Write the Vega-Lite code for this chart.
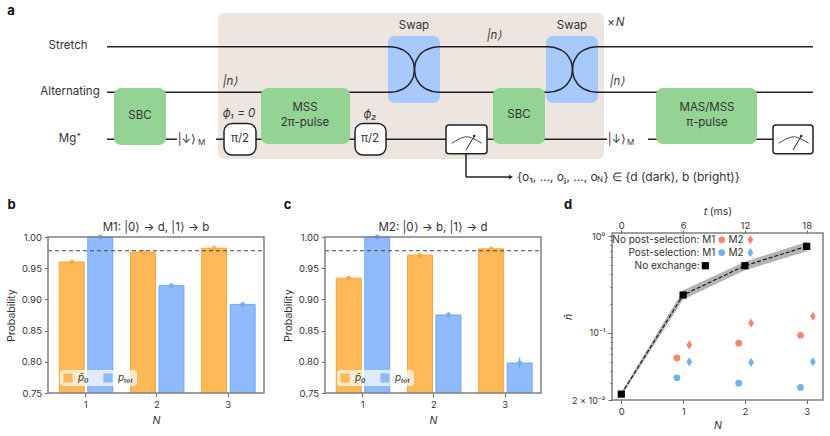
{"$schema":"https://vega.github.io/schema/vega-lite/v6.json","padding":0,"background":"white","bounds":"flush","spacing":0,
"resolve":{"scale":{"color":"independent","stroke":"independent"},"legend":{"color":"independent","stroke":"independent"}},
"config":{"font":"Inter","view":{"stroke":null},"axis":{"labelFontSize":9.5,"labelColor":"#333","titleColor":"#333","titleFontSize":10.5,"titleFontWeight":"normal","domain":false,"tickColor":"#666","tickSize":3.5,"grid":false,"labelPadding":3},"title":{"fontSize":11.5,"fontWeight":"normal","color":"#333","offset":-1}},
"vconcat":[
{"width":830,"height":233,
"encoding":{"x":{"field":"x","type":"quantitative","scale":{"domain":[0,830],"nice":false,"zero":false},"axis":null},"y":{"field":"y","type":"quantitative","scale":{"domain":[0,233],"reverse":true,"nice":false,"zero":false},"axis":null}},
"layer":[
{"data":{"values":[{"x":218,"x2":604,"y":13,"y2":159}]},"mark":{"type":"rect","color":"#ede5df","cornerRadius":6},"encoding":{"x2":{"field":"x2"},"y2":{"field":"y2"}}},
{"data":{"values":[{"x":388,"x2":440,"y":36,"y2":103},{"x":546,"x2":598,"y":36,"y2":103}]},"mark":{"type":"rect","color":"#a8c9fc","cornerRadius":7},"encoding":{"x2":{"field":"x2"},"y2":{"field":"y2"}}},
{"data":{"values":[{"x":107,"x2":177,"y":139.3,"y2":139.3},{"x":216,"x2":607,"y":139.3,"y2":139.3},{"x":648,"x2":813,"y":139.3,"y2":139.3},{"x":466,"x2":466,"y":154,"y2":177},{"x":466,"x2":510,"y":177,"y2":177}]},"mark":{"type":"rule","color":"#222","strokeWidth":1.5},"encoding":{"x2":{"field":"x2"},"y2":{"field":"y2"}}},
{"data":{"values":[{"p":"A","x":107,"y":46.7},{"p":"A","x":390.5,"y":46.7},{"p":"A","x":402.5,"y":49.75},{"p":"A","x":411.3,"y":58.1},{"p":"A","x":413.7,"y":63.6},{"p":"A","x":414.5,"y":69.5},{"p":"A","x":415.3,"y":75.4},{"p":"A","x":417.7,"y":80.9},{"p":"A","x":426.5,"y":89.25},{"p":"A","x":438.5,"y":92.3},{"p":"A","x":548.5,"y":92.3},{"p":"A","x":560.5,"y":89.25},{"p":"A","x":569.3,"y":80.9},{"p":"A","x":571.7,"y":75.4},{"p":"A","x":572.5,"y":69.5},{"p":"A","x":573.3,"y":63.6},{"p":"A","x":575.7,"y":58.1},{"p":"A","x":584.5,"y":49.75},{"p":"A","x":596.5,"y":46.7},{"p":"A","x":813,"y":46.7},
{"p":"B","x":107,"y":92.3},{"p":"B","x":390.5,"y":92.3},{"p":"B","x":402.5,"y":89.25},{"p":"B","x":411.3,"y":80.9},{"p":"B","x":413.7,"y":75.4},{"p":"B","x":414.5,"y":69.5},{"p":"B","x":415.3,"y":63.6},{"p":"B","x":417.7,"y":58.1},{"p":"B","x":426.5,"y":49.75},{"p":"B","x":438.5,"y":46.7},{"p":"B","x":548.5,"y":46.7},{"p":"B","x":560.5,"y":49.75},{"p":"B","x":569.3,"y":58.1},{"p":"B","x":571.7,"y":63.6},{"p":"B","x":572.5,"y":69.5},{"p":"B","x":573.3,"y":75.4},{"p":"B","x":575.7,"y":80.9},{"p":"B","x":584.5,"y":89.25},{"p":"B","x":596.5,"y":92.3},{"p":"B","x":813,"y":92.3}]},"mark":{"type":"line","color":"#222","strokeWidth":1.5,"interpolate":"monotone"},"encoding":{"detail":{"field":"p"}}},
{"data":{"values":[{"x":114,"x2":166,"y":88,"y2":145},{"x":261,"x2":350,"y":88,"y2":144},{"x":493,"x2":545,"y":88,"y2":144},{"x":656,"x2":757,"y":88,"y2":144}]},"mark":{"type":"rect","color":"#93d393","cornerRadius":7},"encoding":{"x2":{"field":"x2"},"y2":{"field":"y2"}}},
{"data":{"values":[{"x":224,"x2":256,"y":123.5,"y2":155},{"x":355,"x2":386,"y":123.5,"y2":155}]},"mark":{"type":"rect","fill":"white","stroke":"#222","strokeWidth":1.5,"cornerRadius":8},"encoding":{"x2":{"field":"x2"},"y2":{"field":"y2"}}},
{"data":{"values":[{"x":446,"x2":487,"y":125,"y2":153.7},{"x":773,"x2":813,"y":125,"y2":153.7}]},"mark":{"type":"rect","fill":"white","stroke":"#222","strokeWidth":1.5,"cornerRadius":3},"encoding":{"x2":{"field":"x2"},"y2":{"field":"y2"}}},
{"data":{"values":[{"p":"m1","x":451.7,"y":143.3},{"p":"m1","x":459,"y":139},{"p":"m1","x":466.7,"y":136.8},{"p":"m1","x":474,"y":139},{"p":"m1","x":481.7,"y":143.3},{"p":"m2","x":778.7,"y":143.3},{"p":"m2","x":786,"y":139},{"p":"m2","x":793.7,"y":136.8},{"p":"m2","x":801,"y":139},{"p":"m2","x":808.7,"y":143.3}]},"mark":{"type":"line","color":"#333","strokeWidth":0.9,"interpolate":"monotone"},"encoding":{"detail":{"field":"p"}}},
{"data":{"values":[{"x":466,"x2":474.3,"y":150,"y2":136},{"x":793,"x2":801.3,"y":150,"y2":136}]},"mark":{"type":"rule","color":"#222","strokeWidth":1},"encoding":{"x2":{"field":"x2"},"y2":{"field":"y2"}}},
{"data":{"values":[{"x":474.3,"y":136},{"x":801.3,"y":136}]},"mark":{"type":"point","shape":"circle","filled":true,"color":"#222","size":6,"opacity":1}},
{"data":{"values":[{"x":511,"y":177}]},"mark":{"type":"point","shape":"triangle-right","filled":true,"color":"#222","size":22,"opacity":1}},
{"data":{"values":[{"x":68,"y":46,"t":"Stretch"},{"x":70,"y":92,"t":"Alternating"},{"x":70,"y":139,"t":"Mg⁺"},{"x":414,"y":26,"t":"Swap"},{"x":572,"y":26,"t":"Swap"},{"x":140,"y":116,"t":"SBC"},{"x":519,"y":115,"t":"SBC"},{"x":305,"y":108,"t":"MSS"},{"x":305,"y":122.5,"t":"2π-pulse"},{"x":707,"y":108,"t":"MAS/MSS"},{"x":707,"y":123,"t":"π-pulse"},{"x":240,"y":139,"t":"π/2"},{"x":370,"y":139,"t":"π/2"},{"x":187,"y":140,"t":"|↓⟩"},{"x":617,"y":140,"t":"|↓⟩"},{"x":611,"y":23,"t":"×"}]},"mark":{"type":"text","fontSize":11.5,"color":"#333"},"encoding":{"text":{"field":"t"}}},
{"data":{"values":[{"x":230,"y":82,"t":"|n⟩"},{"x":494,"y":36,"t":"|n⟩"},{"x":617,"y":82,"t":"|n⟩"},{"x":620,"y":23,"t":"N"},{"x":239,"y":114,"t":"ϕ₁ = 0"},{"x":370,"y":115,"t":"ϕ₂"}]},"mark":{"type":"text","fontSize":11.5,"fontStyle":"italic","color":"#333"},"encoding":{"text":{"field":"t"}}},
{"data":{"values":[{"x":517,"y":177,"t":"{o₁, ..., oⱼ, ..., o"},{"x":603.5,"y":177,"t":"} ∈ {d (dark), b (bright)}"}]},"mark":{"type":"text","fontSize":12,"align":"left","color":"#333"},"encoding":{"text":{"field":"t"}}},
{"data":{"values":[{"x":597,"y":179.5,"t":"N"},{"x":198,"y":142.5,"t":"M"},{"x":627,"y":142.5,"t":"M"}]},"mark":{"type":"text","fontSize":8,"align":"left","color":"#333"},"encoding":{"text":{"field":"t"}}},
{"data":{"values":[{"x":11,"y":11,"t":"a"},{"x":11.5,"y":205,"t":"b"},{"x":287.5,"y":205,"t":"c"},{"x":568,"y":205,"t":"d"}]},"mark":{"type":"text","fontSize":13,"fontWeight":"bold","color":"#111"},"encoding":{"text":{"field":"t"}}}
]},
{"bounds":"flush","spacing":0,
"resolve":{"scale":{"color":"independent","stroke":"independent"},"legend":{"color":"independent","stroke":"independent"}},
"hconcat":[
{"width":48,"height":1,"data":{"values":[{"a":1}]},"mark":{"type":"point","opacity":0}},
{"width":216,"height":160,"title":"M1: |0⟩ → d, |1⟩ → b",
"resolve":{"axis":{"y":"independent"}},
"data":{"values":[{"pos":0.81,"series":"p̄₀","value":0.96,"lo":0.958,"hi":0.961},{"pos":1.21,"series":"pₜₒₜ","value":1.0,"lo":1.0,"hi":1.0},{"pos":1.81,"series":"p̄₀","value":0.976,"lo":0.975,"hi":0.977},{"pos":2.21,"series":"pₜₒₜ","value":0.922,"lo":0.92,"hi":0.924},{"pos":2.81,"series":"p̄₀","value":0.982,"lo":0.98,"hi":0.983},{"pos":3.21,"series":"pₜₒₜ","value":0.892,"lo":0.888,"hi":0.896}]},
"encoding":{"x":{"field":"pos","type":"quantitative","scale":{"domain":[0.476,3.51],"nice":false,"zero":false,"padding":0},"axis":{"values":[1,2,3],"format":"d","title":"N","titleFontStyle":"italic","titlePadding":6}}},
"layer":[
{"mark":{"type":"bar","size":25,"clip":true,"strokeWidth":1},"encoding":{"y":{"field":"value","type":"quantitative","scale":{"domain":[0.75,1],"range":[160,4],"nice":false,"zero":false},"axis":{"values":[0.75,0.8,0.85,0.9,0.95,1],"format":".2f","title":"Probability","labelOverlap":false,"titleX":-32}},"color":{"field":"series","type":"nominal","scale":{"domain":["p̄₀","pₜₒₜ"],"range":["#fdb957","#8fbbfd"]},"legend":{"title":null,"orient":"none","legendX":12,"legendY":137,"direction":"horizontal","columns":2,"symbolType":"square","symbolSize":85,"symbolStrokeWidth":0,"labelFontSize":10,"labelFontStyle":"italic","labelColor":"#333","fillColor":"rgba(255,255,255,0.7)","cornerRadius":3,"padding":3,"columnPadding":14,"labelOffset":5}},"stroke":{"field":"series","type":"nominal","scale":{"domain":["p̄₀","pₜₒₜ"],"range":["#f9a63a","#6fa6fb"]},"legend":null}}},
{"mark":{"type":"rule","strokeWidth":1.2,"clip":true},"encoding":{"y":{"field":"lo","type":"quantitative","axis":null},"y2":{"field":"hi"},"stroke":{"field":"series","type":"nominal","legend":null}}},
{"mark":{"type":"point","shape":"circle","size":14,"filled":false,"strokeWidth":1.2,"opacity":1},"encoding":{"y":{"field":"value","type":"quantitative","axis":null},"stroke":{"field":"series","type":"nominal","legend":null}}},
{"data":{"values":[{"threshold":0.978}]},"mark":{"type":"rule","color":"#444","strokeDash":[4,3],"strokeWidth":1.1},"encoding":{"x":{"value":0},"x2":{"value":216},"y":{"field":"threshold","type":"quantitative","axis":null}}},
{"data":{"values":[{"l":0.476,"r":3.51,"b":0.75,"t":1}]},"mark":{"type":"rect","fillOpacity":0,"stroke":"#808080","strokeWidth":1.5},"encoding":{"x":{"field":"l","type":"quantitative"},"x2":{"field":"r"},"y":{"field":"b","type":"quantitative","axis":null},"y2":{"field":"t"}}}
]},
{"width":61,"height":1,"data":{"values":[{"a":1}]},"mark":{"type":"point","opacity":0}},
{"width":216,"height":160,"title":"M2: |0⟩ → b, |1⟩ → d",
"resolve":{"axis":{"y":"independent"}},
"data":{"values":[{"pos":0.81,"series":"p̄₀","value":0.934,"lo":0.932,"hi":0.936},{"pos":1.21,"series":"pₜₒₜ","value":1.0,"lo":1.0,"hi":1.0},{"pos":1.81,"series":"p̄₀","value":0.971,"lo":0.969,"hi":0.973},{"pos":2.21,"series":"pₜₒₜ","value":0.875,"lo":0.871,"hi":0.879},{"pos":2.81,"series":"p̄₀","value":0.981,"lo":0.979,"hi":0.983},{"pos":3.21,"series":"pₜₒₜ","value":0.798,"lo":0.789,"hi":0.807}]},
"encoding":{"x":{"field":"pos","type":"quantitative","scale":{"domain":[0.476,3.51],"nice":false,"zero":false,"padding":0},"axis":{"values":[1,2,3],"format":"d","title":"N","titleFontStyle":"italic","titlePadding":6}}},
"layer":[
{"mark":{"type":"bar","size":25,"clip":true,"strokeWidth":1},"encoding":{"y":{"field":"value","type":"quantitative","scale":{"domain":[0.75,1],"range":[160,4],"nice":false,"zero":false},"axis":{"values":[0.75,0.8,0.85,0.9,0.95,1],"format":".2f","title":"Probability","labelOverlap":false,"titleX":-32}},"color":{"field":"series","type":"nominal","scale":{"domain":["p̄₀","pₜₒₜ"],"range":["#fdb957","#8fbbfd"]},"legend":{"title":null,"orient":"none","legendX":12,"legendY":137,"direction":"horizontal","columns":2,"symbolType":"square","symbolSize":85,"symbolStrokeWidth":0,"labelFontSize":10,"labelFontStyle":"italic","labelColor":"#333","fillColor":"rgba(255,255,255,0.7)","cornerRadius":3,"padding":3,"columnPadding":14,"labelOffset":5}},"stroke":{"field":"series","type":"nominal","scale":{"domain":["p̄₀","pₜₒₜ"],"range":["#f9a63a","#6fa6fb"]},"legend":null}}},
{"mark":{"type":"rule","strokeWidth":1.2,"clip":true},"encoding":{"y":{"field":"lo","type":"quantitative","axis":null},"y2":{"field":"hi"},"stroke":{"field":"series","type":"nominal","legend":null}}},
{"mark":{"type":"point","shape":"circle","size":14,"filled":false,"strokeWidth":1.2,"opacity":1},"encoding":{"y":{"field":"value","type":"quantitative","axis":null},"stroke":{"field":"series","type":"nominal","legend":null}}},
{"data":{"values":[{"threshold":0.978}]},"mark":{"type":"rule","color":"#444","strokeDash":[4,3],"strokeWidth":1.1},"encoding":{"x":{"value":0},"x2":{"value":216},"y":{"field":"threshold","type":"quantitative","axis":null}}},
{"data":{"values":[{"l":0.476,"r":3.51,"b":0.75,"t":1}]},"mark":{"type":"rect","fillOpacity":0,"stroke":"#808080","strokeWidth":1.5},"encoding":{"x":{"field":"l","type":"quantitative"},"x2":{"field":"r"},"y":{"field":"b","type":"quantitative","axis":null},"y2":{"field":"t"}}}
]},
{"width":71,"height":1,"data":{"values":[{"a":1}]},"mark":{"type":"point","opacity":0}},
{"width":211,"height":167,"view":{"stroke":"#808080","strokeWidth":1.5},
"resolve":{"axis":{"x":"independent"}},
"layer":[
{"data":{"values":[{"N":0,"lo":0.0219,"hi":0.0241},{"N":1,"lo":0.22,"hi":0.274},{"N":2,"lo":0.442,"hi":0.543},{"N":3,"lo":0.694,"hi":0.867}]},"mark":{"type":"area","color":"#b4b4b4"},"encoding":{"x":{"field":"N","type":"quantitative","scale":{"domain":[-0.151,3.264],"nice":false,"zero":false},"axis":{"values":[0,1,2,3],"format":"d","title":"N","titleFontStyle":"italic"}},"y":{"field":"lo","type":"quantitative","scale":{"type":"log","domain":[0.02,1.076],"nice":false},"axis":{"values":[0.02,0.03,0.04,0.05,0.06,0.07,0.08,0.09,0.1,0.2,0.3,0.4,0.5,0.6,0.7,0.8,0.9,1],"labelExpr":"datum.value==1?'10⁰':datum.value==0.1?'10⁻¹':datum.value==0.02?'2 × 10⁻²':''","labelOverlap":false,"labelFontSize":9,"tickSize":{"expr":"datum.value==1||datum.value==0.1||datum.value==0.02?4:2"},"title":"n̄","titleFontStyle":"italic","titleX":-39}},"y2":{"field":"hi"}}},
{"data":{"values":[{"N":0,"v":0.023},{"N":1,"v":0.245},{"N":2,"v":0.493},{"N":3,"v":0.782}]},"mark":{"type":"line","color":"#111","strokeWidth":1.1,"strokeDash":[4,2]},"encoding":{"x":{"field":"N","type":"quantitative","axis":{"values":[0,1,2,3],"labelExpr":"datum.value*6","orient":"top","title":"𝑡 (ms)","tickSize":3,"labelPadding":0,"titlePadding":4}},"y":{"field":"v","type":"quantitative"}}},
{"data":{"values":[{"N":0,"v":0.023},{"N":1,"v":0.245},{"N":2,"v":0.493},{"N":3,"v":0.782},{"N":1.36,"v":0.493}]},"mark":{"type":"point","shape":"square","filled":true,"color":"#000","size":52,"opacity":1},"encoding":{"x":{"field":"N","type":"quantitative","axis":null},"y":{"field":"v","type":"quantitative"}}},
{"data":{"values":[{"N":0.9,"v":0.0546,"kind":"no post"},{"N":1.9,"v":0.0776,"kind":"no post"},{"N":2.9,"v":0.0938,"kind":"no post"},{"N":1.624,"v":0.916,"kind":"no post"},{"N":0.9,"v":0.034,"kind":"post"},{"N":1.9,"v":0.0299,"kind":"post"},{"N":2.9,"v":0.027,"kind":"post"},{"N":1.624,"v":0.672,"kind":"post"}]},"mark":{"type":"point","shape":"circle","filled":true,"size":45,"opacity":1},"encoding":{"x":{"field":"N","type":"quantitative","axis":null},"y":{"field":"v","type":"quantitative"},"color":{"field":"kind","type":"nominal","scale":{"domain":["no post","post"],"range":["#f5856c","#6fb3ec"]},"legend":null}}},
{"data":{"values":[{"N":1.1,"v":0.0745,"kind":"no post"},{"N":2.1,"v":0.125,"kind":"no post"},{"N":3.1,"v":0.1476,"kind":"no post"},{"N":2.088,"v":0.916,"kind":"no post"},{"N":1.1,"v":0.0497,"kind":"post"},{"N":2.1,"v":0.049,"kind":"post"},{"N":3.1,"v":0.0497,"kind":"post"},{"N":2.088,"v":0.672,"kind":"post"}]},"mark":{"type":"point","shape":"M0,-1L0.62,0L0,1L-0.62,0Z","filled":true,"size":85,"opacity":1},"encoding":{"x":{"field":"N","type":"quantitative","axis":null},"y":{"field":"v","type":"quantitative"},"color":{"field":"kind","type":"nominal","legend":null}}},
{"data":{"values":[{"N":1.52,"v":0.916,"t":"No post-selection: M1"},{"N":1.52,"v":0.672,"t":"Post-selection: M1"},{"N":1.27,"v":0.493,"t":"No exchange:"},{"N":1.98,"v":0.916,"t":"M2"},{"N":1.98,"v":0.672,"t":"M2"}]},"mark":{"type":"text","align":"right","fontSize":10,"color":"#333"},"encoding":{"x":{"field":"N","type":"quantitative","axis":null},"y":{"field":"v","type":"quantitative"},"text":{"field":"t"}}}
]}
]}
]}
